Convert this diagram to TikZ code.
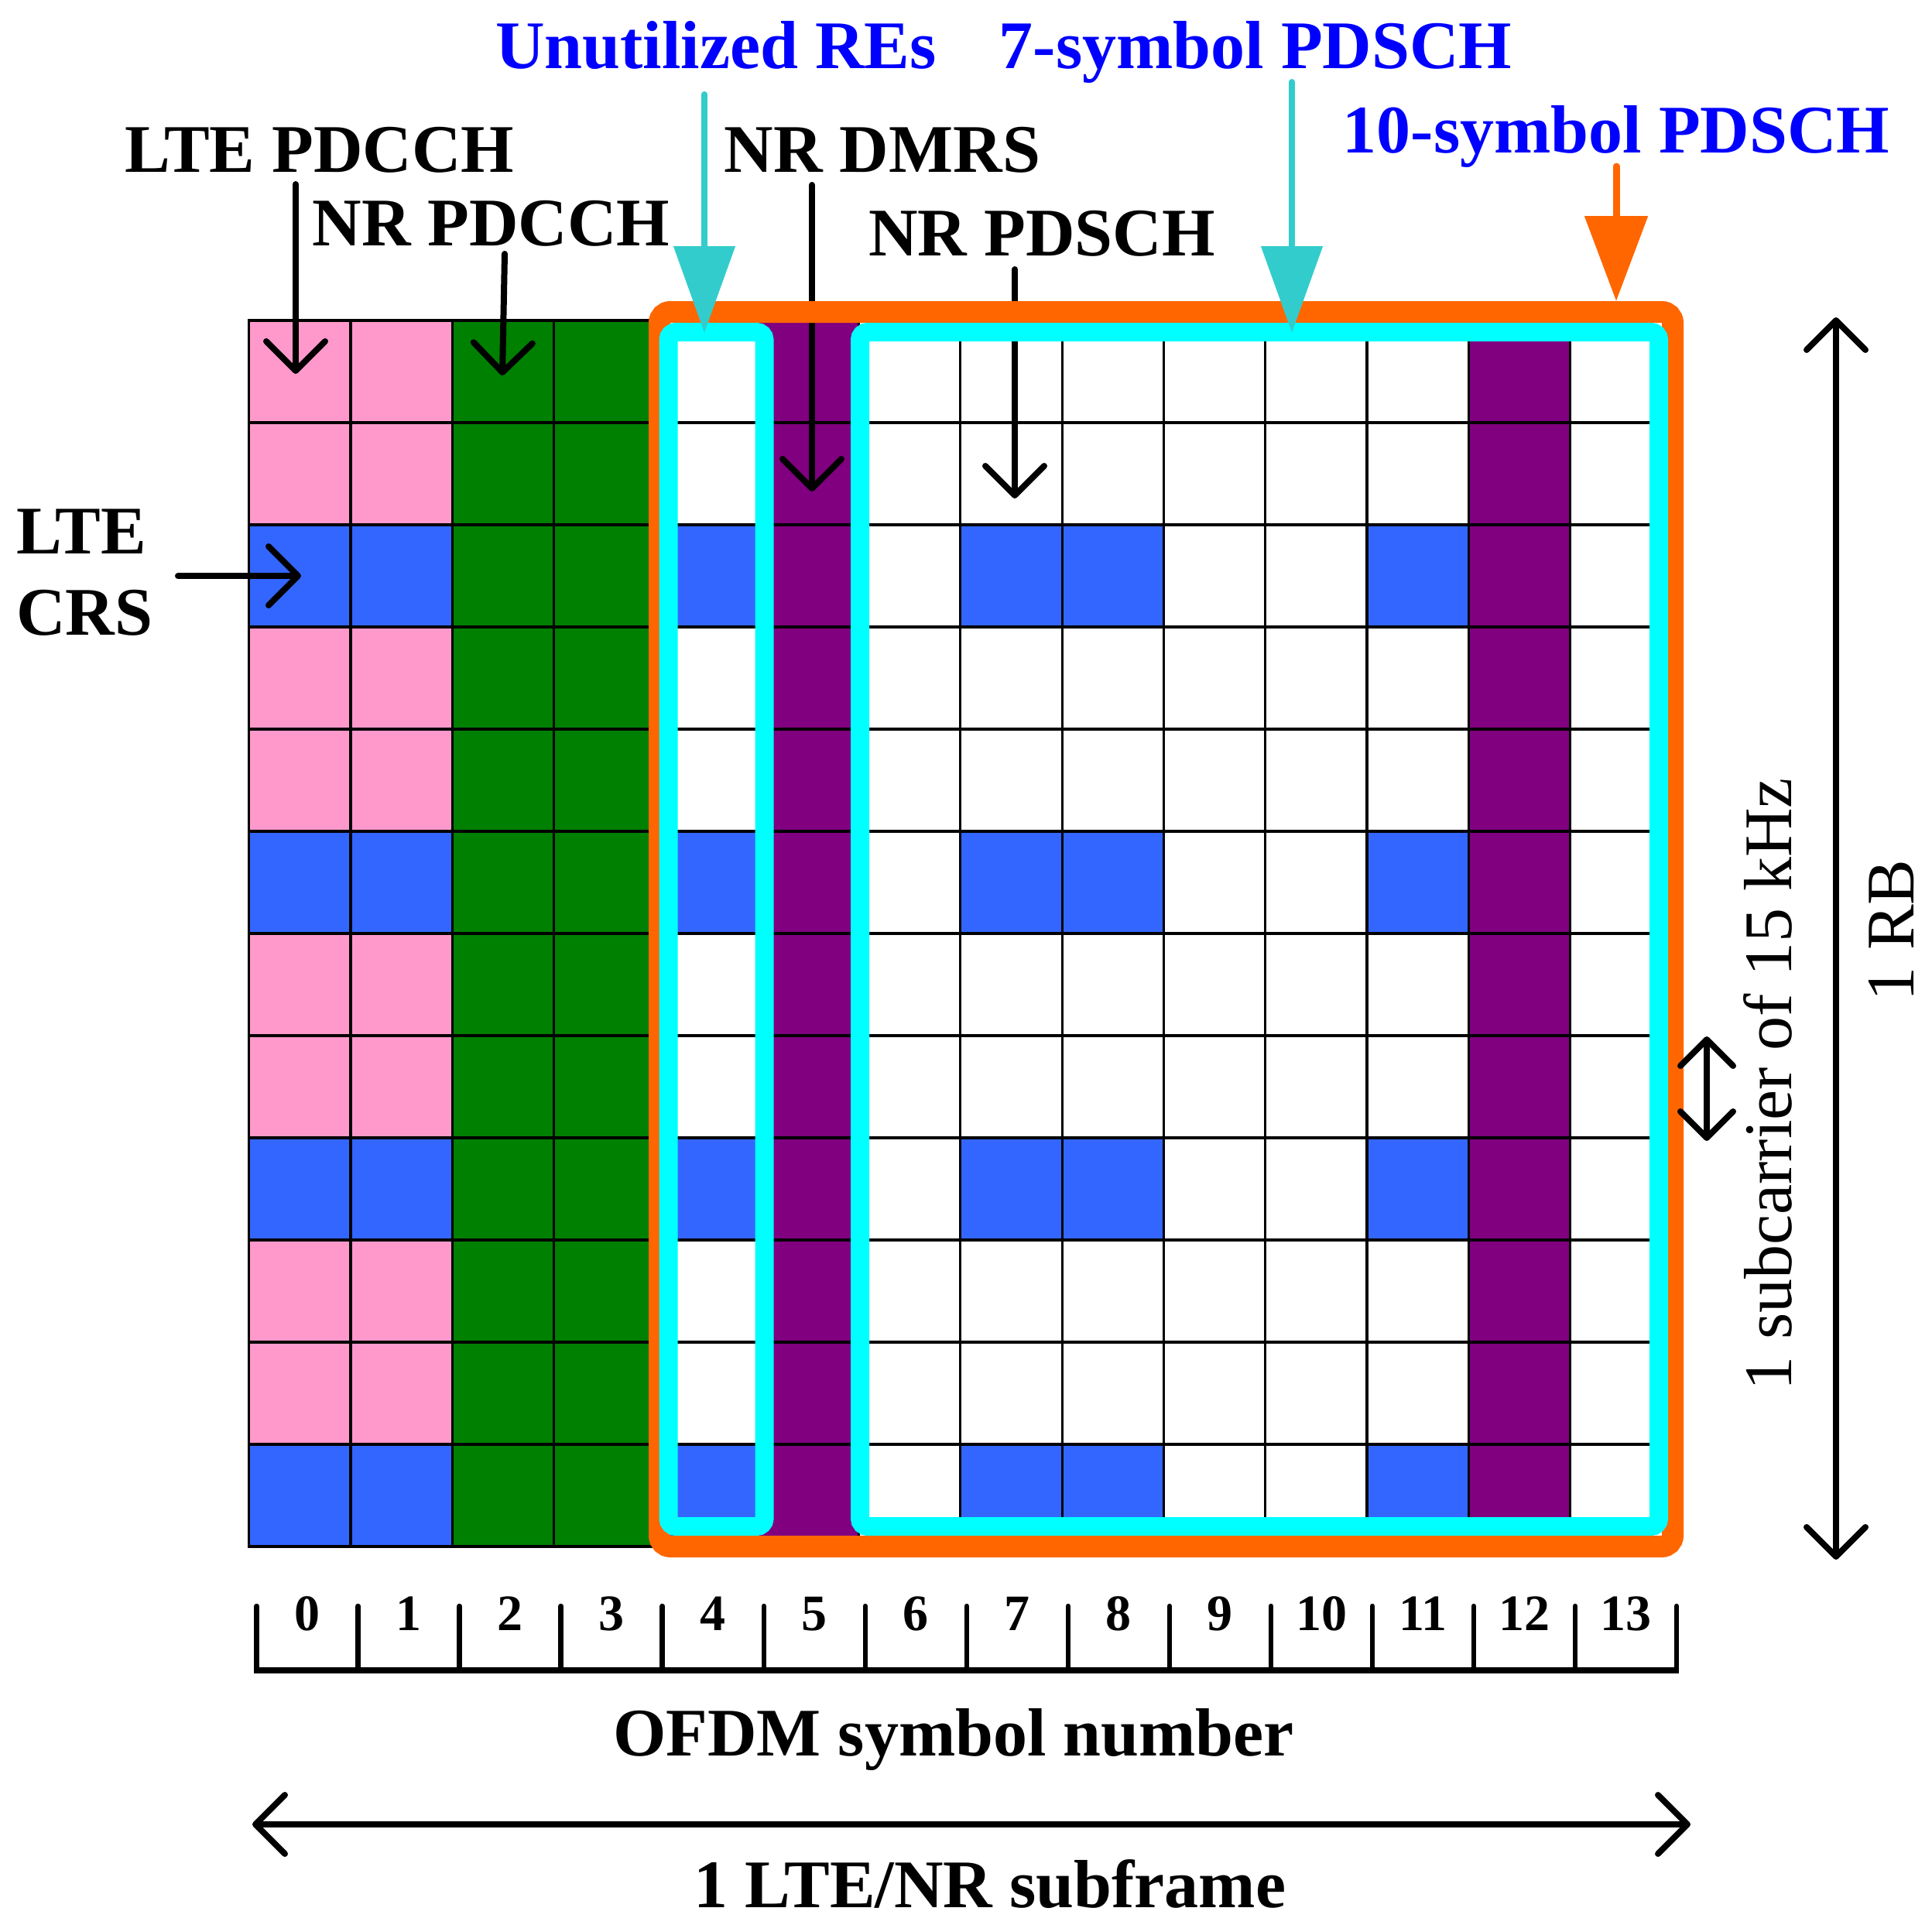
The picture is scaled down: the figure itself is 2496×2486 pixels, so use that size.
\documentclass[tikz,border=0pt]{standalone}
\usepackage{fontspec}
\setmainfont{Liberation Serif}
\usetikzlibrary{arrows.meta}
\definecolor{pinkc}{HTML}{FF99CC}
\definecolor{bluec}{HTML}{3366FF}
\definecolor{greenc}{HTML}{008000}
\definecolor{purplec}{HTML}{800080}
\definecolor{cyanc}{HTML}{00FFFF}
\definecolor{orangec}{HTML}{FF6600}
\definecolor{tealc}{HTML}{33CCCC}
\definecolor{labelblue}{HTML}{0000FF}
\begin{document}
\begin{tikzpicture}[x=1pt,y=-1pt,
  lbl/.style={inner sep=0pt, anchor=base, font=\fontsize{88}{100}\selectfont\bfseries},
  bluelbl/.style={lbl, text=labelblue},
  rlbl/.style={inner sep=0pt, anchor=base, font=\fontsize{88}{100}\selectfont},
  num/.style={inner sep=0pt, anchor=base, font=\fontsize{66}{80}\selectfont\bfseries},
  barb/.style={line width=8pt, line cap=round, -{Straight Barb[length=38pt,width=76pt,round]}},
  dbarb/.style={line width=8pt, line cap=round, {Straight Barb[length=38pt,width=76pt,round]}-{Straight Barb[length=38pt,width=76pt,round]}},
  sbarb/.style={line width=8pt, line cap=round, {Straight Barb[length=34pt,width=68pt,round]}-{Straight Barb[length=34pt,width=68pt,round]}},
  tealarrow/.style={draw=tealc, line width=8pt, line cap=round, -{Triangle[length=112pt,width=78pt,fill=tealc]}},
  orangearrow/.style={draw=orangec, line width=9pt, line cap=round, -{Triangle[length=110pt,width=80pt,fill=orangec]}},
  gridline/.style={line width=3.2pt, black}
]
\useasboundingbox (0,0) rectangle (2496,2486);

% ---- resource grid ----
\begin{scope}[shift={(321.6,414)}, x=131.31pt, y=-132pt]
  \fill[pinkc] (0,0) rectangle (2,12);
  \fill[greenc] (2,0) rectangle (4,12);
  \fill[purplec] (5,0) rectangle (6,12);
  \fill[purplec] (12,0) rectangle (13,12);
  \foreach \r in {2,5,8,11}{
    \foreach \c in {0,1,4,7,8,11}{
      \fill[bluec] (\c,\r) rectangle ({\c+1},{\r+1});
    }
  }
  \foreach \c in {0,...,14} \draw[gridline] (\c,0) -- (\c,12);
  \foreach \r in {0,...,12} \draw[gridline] (0,\r) -- (14,\r);
  \draw[gridline] (0,0) rectangle (14,12);
\end{scope}

% ---- labels ----
\node[lbl] (lteP) at (413,222) {LTE PDCCH};
\node[lbl] (nrP) at (634.5,317) {NR PDCCH};
\node[lbl] (dmrs) at (1140,222) {NR DMRS};
\node[lbl] (pdsch) at (1346,330) {NR PDSCH};
\node[bluelbl] (unut) at (925,89) {Unutilized REs};
\node[bluelbl] (sym7) at (1622,89) {7-symbol PDSCH};
\node[bluelbl] (sym10) at (2088,197) {10-symbol PDSCH};
\node[lbl, anchor=base west] (crs1) at (21,715.7) {LTE};
\node[lbl, anchor=base west] (crs2) at (21,820) {CRS};
\node[lbl] (ofdm) at (1232,2268) {OFDM symbol number};
\node[lbl] (subf) at (1279,2464) {1 LTE/NR subframe};
\node[rlbl, rotate=90] (rb) at (2472,1202) {1 RB};
\node[rlbl, rotate=90] (subc) at (2314,1401) {1 subcarrier of 15 kHz};

% ---- black pointer arrows ----
\coordinate (crsA) at (230,744);   \coordinate (crsB) at (389,744);
\coordinate (ltePA) at (382,238);  \coordinate (ltePB) at (382,483);
\coordinate (nrPA) at (652,328);   \coordinate (nrPB) at (649,485);
\coordinate (dmrsA) at (1049,239); \coordinate (dmrsB) at (1049,635);
\coordinate (pdschA) at (1311,348); \coordinate (pdschB) at (1311,644);
\draw[barb] (crsA) -- (crsB);
\draw[barb] (ltePA) -- (ltePB);
\draw[barb] (nrPA) -- (nrPB);
\draw[barb] (dmrsA) -- (dmrsB);
\draw[barb] (pdschA) -- (pdschB);

% ---- PDSCH frames ----
\draw[orangec, line width=28pt, rounded corners=14pt] (852,403) rectangle (2161,1998);
\draw[cyanc, line width=24pt, rounded corners=10pt] (863.5,429) rectangle (987.5,1972);
\draw[cyanc, line width=24pt, rounded corners=10pt] (1111,429) rectangle (2143,1972);

% ---- coloured arrows ----
\coordinate (unutA) at (910,122);  \coordinate (unutB) at (910,430);
\coordinate (sym7A) at (1669,106); \coordinate (sym7B) at (1669,430);
\coordinate (sym10A) at (2088,215); \coordinate (sym10B) at (2088,389);
\draw[tealarrow] (unutA) -- (unutB);
\draw[tealarrow] (sym7A) -- (sym7B);
\draw[orangearrow] (sym10A) -- (sym10B);

% ---- dimension arrows ----
\coordinate (rbA) at (2372,410);   \coordinate (rbB) at (2372,2015);
\coordinate (scA) at (2205,1339);  \coordinate (scB) at (2205,1474);
\coordinate (sfA) at (326,2357);   \coordinate (sfB) at (2184,2357);
\draw[dbarb] (rbA) -- (rbB);
\draw[sbarb] (scA) -- (scB);
\draw[dbarb] (sfA) -- (sfB);

% ---- symbol axis ----
\coordinate (axA) at (328.4,2158); \coordinate (axB) at (2169.2,2158);
\draw[line width=8pt] (axA) -- (axB);
\foreach \k in {0,...,14}
  \draw[line width=6.5pt, line cap=round] ({331.6+131.03*\k},2075) -- ({331.6+131.03*\k},2158);
\foreach \k in {0,...,13}
  \node[num] (n\k) at ({331.6+131.03*\k+65.5},2106) {\k};
\end{tikzpicture}
\end{document}
